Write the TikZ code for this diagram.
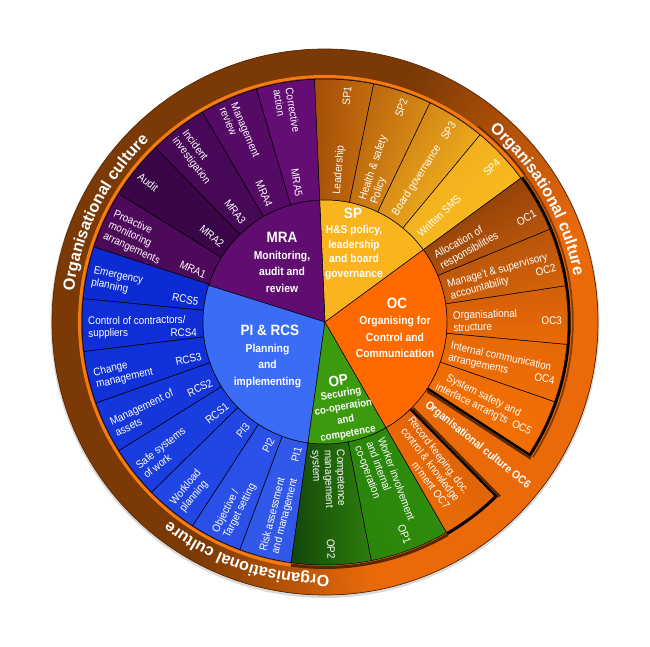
\documentclass[tikz,border=0pt]{standalone}
\usepackage{fontspec}
\setmainfont{Liberation Sans}[FakeStretch=0.9]
\newfontfamily\bandfamily{Liberation Sans}
\usetikzlibrary{calc,decorations.text}

\definecolor{bandbrown}{HTML}{7A3905}
\definecolor{bandorange}{HTML}{EA6A0A}
\definecolor{ringorange}{HTML}{F47A12}
\definecolor{darkbrown}{HTML}{5A2600}
\definecolor{spcore}{HTML}{FAB41E}
\definecolor{mracore}{HTML}{600C70}
\definecolor{mraa}{HTML}{4E0A5A}
\definecolor{mrab}{HTML}{3B0647}
\definecolor{mrac}{HTML}{470857}
\definecolor{mrad}{HTML}{550A66}
\definecolor{mrae}{HTML}{630D75}
\definecolor{picore}{HTML}{3B6CF6}
\definecolor{rcse}{HTML}{0D2BD2}
\definecolor{rcsd}{HTML}{0F2ED5}
\definecolor{rcsc}{HTML}{1131D8}
\definecolor{rcsb}{HTML}{1536DB}
\definecolor{rcsa}{HTML}{1A3DDF}
\definecolor{pic}{HTML}{2246E3}
\definecolor{pib}{HTML}{2A50E8}
\definecolor{pia}{HTML}{3258EA}
\definecolor{opcore}{HTML}{3B9A0D}
\definecolor{opa}{HTML}{2F8E0C}
\definecolor{opaw}{HTML}{2A840C}
\definecolor{opbw}{HTML}{12480A}
\definecolor{opbc}{HTML}{2E7E0D}
\definecolor{occore}{HTML}{FF6A00}
\definecolor{spaw}{HTML}{C6700E}
\definecolor{spac}{HTML}{A44E08}
\definecolor{spbw}{HTML}{E0961A}
\definecolor{spbc}{HTML}{B8620B}
\definecolor{spcw}{HTML}{F8B820}
\definecolor{spcc}{HTML}{C97C12}
\definecolor{spdw}{HTML}{F9BC20}
\definecolor{spdc}{HTML}{F0AE1C}
\definecolor{ocgw}{HTML}{F06E05}
\definecolor{ocgc}{HTML}{D8600A}
\definecolor{ocew}{HTML}{F47004}
\definecolor{ocec}{HTML}{EE6C05}
\definecolor{ocdw}{HTML}{F06E05}
\definecolor{ocdc}{HTML}{E46808}
\definecolor{occw}{HTML}{EC6A06}
\definecolor{occc}{HTML}{D05E0A}
\definecolor{ocbw}{HTML}{D8640A}
\definecolor{ocbc}{HTML}{AE500A}
\definecolor{ocaw}{HTML}{C45C0C}
\definecolor{ocac}{HTML}{843A08}

\newcommand{\segfont}{\fontsize{11}{12.2}\selectfont}
% ring segment: start angle, end angle, colour at clockwise side, colour at counter-clockwise side
\newcommand{\ringseg}[4]{%
  \pgfmathsetmacro\mymid{(#1+#2)/2}%
  \path[draw=black, line width=0.5pt, top color=#4, bottom color=#3, shading angle=\mymid]
    (#1:122pt) arc[start angle=#1,end angle=#2,radius=122pt]
    -- (#2:243pt) arc[start angle=#2,end angle=#1,radius=243pt] -- cycle;}
\newcommand{\coreseg}[3]{%
  \path[fill=#3, draw=black, line width=0.5pt] (0,0) -- (#1:122pt) arc[start angle=#1,end angle=#2,radius=122pt] -- cycle;}
\newcommand{\labR}[6]{%
  \pgfmathsetmacro\myup{#2+90}%
  \node[seglabel, anchor=west, rotate=#2] (#1n) at ($(#2:128pt)+(\myup:#5pt)$) {#3};
  \node[segcode, anchor=east, rotate=#2] (#1c) at ($(#2:237pt)+(\myup:#6pt)$) {#4};}
\newcommand{\labL}[6]{%
  \pgfmathsetmacro\myup{#2-90}%
  \pgfmathsetmacro\myrot{#2-180}%
  \node[seglabel, anchor=west, rotate=\myrot] (#1n) at ($(#2:237pt)+(\myup:#5pt)$) {#3};
  \node[segcode, anchor=east, rotate=\myrot] (#1c) at ($(#2:128pt)+(\myup:#6pt)$) {#4};}

\begin{document}
\begin{tikzpicture}[x=1pt,y=1pt,
  seglabel/.style={text=white, font=\segfont, align=left, inner sep=0pt},
  segcode/.style={text=white, font=\segfont, inner sep=0pt},
  coretitle/.style={text=white, font=\bfseries\fontsize{15}{18}\selectfont, inner sep=0pt},
  corebody/.style={text=white, font=\bfseries\fontsize{11.5}{16.6}\selectfont, align=center, inner sep=0pt},
  bandtext/.style={decorate, decoration={text along path, text align=center, text color=white,
     text={|\bandfamily\bfseries\fontsize{16.2}{19}\selectfont|Organisational culture}}}]
\useasboundingbox (-325,-324) rectangle (325,322);

% outer band
\fill[black!15] (0,-1.5) circle[radius=274.5pt];
\fill[bandbrown] (0,0) circle[radius=273pt];
\fill[bandorange] (0,0) -- (-80:273pt) arc[start angle=-80,end angle=20,radius=273pt] -- cycle;
\foreach \i in {0,...,49}{
  \pgfmathtruncatemacro\p{100-2*\i}
  \pgfmathsetmacro\aa{20+\i}
  \pgfmathsetmacro\bb{21.5+\i}
  \fill[bandorange!\p!bandbrown] (0,0) -- (\aa:273pt) arc[start angle=\aa,end angle=\bb,radius=273pt] -- cycle;
}
\foreach \i in {0,...,39}{
  \pgfmathtruncatemacro\p{2.5*\i}
  \pgfmathsetmacro\aa{240+\i}
  \pgfmathsetmacro\bb{241.5+\i}
  \fill[bandorange!\p!bandbrown] (0,0) -- (\aa:273pt) arc[start angle=\aa,end angle=\bb,radius=273pt] -- cycle;
}
\draw[darkbrown, line width=0.7pt] (0,0) circle[radius=273pt];

% thin ring line
\draw[ringorange, line width=3pt] (36.3:245.5pt) arc[start angle=36.3,end angle=262,radius=245.5pt];
\draw[darkbrown!80!bandbrown, line width=1.6pt] (36.3:248.3pt) arc[start angle=36.3,end angle=52,radius=248.3pt];
\draw[darkbrown, line width=3pt] (262:245.5pt) arc[start angle=262,end angle=300,radius=245.5pt];

% SP wedges
\ringseg{78.45}{92.5}{spaw}{spac}
\ringseg{64.4}{78.45}{spbw}{spbc}
\ringseg{50.35}{64.4}{spcw}{spcc}
\ringseg{36.3}{50.35}{spdw}{spdc}
% MRA wedges
\ringseg{92.5}{106.4}{mrae}{mrae}
\ringseg{106.4}{120.3}{mrad}{mrad}
\ringseg{120.3}{134.2}{mrac}{mrac}
\ringseg{134.2}{148.1}{mrab}{mrab}
\ringseg{148.1}{162}{mraa}{mraa}
% RCS / PI wedges
\ringseg{162}{174.5}{rcse}{rcse}
\ringseg{174.5}{187}{rcsd}{rcsd}
\ringseg{187}{199.5}{rcsc}{rcsc}
\ringseg{199.5}{212}{rcsb}{rcsb}
\ringseg{212}{224.5}{rcsa}{rcsa}
\ringseg{224.5}{237}{pic}{pic}
\ringseg{237}{249.5}{pib}{pib}
\ringseg{249.5}{262}{pia}{pia}
% OP wedges
\ringseg{262}{281}{opbw}{opbc}
\ringseg{281}{300}{opaw}{opa}
% OC wedges
\ringseg{300}{314.5}{ocgw}{ocgc}
\ringseg{327}{340.86}{ocew}{ocec}
\ringseg{340.86}{354.72}{ocdw}{ocdc}
\ringseg{354.72}{368.58}{occw}{occc}
\ringseg{368.58}{382.44}{ocbw}{ocbc}
\ringseg{382.44}{396.3}{ocaw}{ocac}

% core
\coreseg{36.3}{92.5}{spcore}
\coreseg{92.5}{162.5}{mracore}
\coreseg{162.5}{262}{picore}
\coreseg{262}{300}{opcore}
\coreseg{300}{396.3}{occore}

% OC black frames with shadows
\draw[darkbrown, line width=2pt] ($(-33:123pt)+(-123:2.6pt)$) -- ($(-33:247pt)+(-123:2.6pt)$);
\draw[darkbrown, line width=2pt] ($(-45.5:123pt)+(44.5:2.6pt)$) -- ($(-45.5:247pt)+(44.5:2.6pt)$);
\draw[darkbrown!70!bandorange, line width=1.8pt] (-33:247.8pt) arc[start angle=-33,end angle=36.3,radius=247.8pt];
\draw[black, line width=2.5pt, line join=miter] (-33:122pt) -- (-33:244.5pt) arc[start angle=-33,end angle=36.3,radius=244.5pt];
\draw[black, line width=2.5pt, line join=miter] (-45.5:122pt) -- (-45.5:244.5pt) arc[start angle=-45.5,end angle=-60,radius=244.5pt];

% band texts
\path[bandtext] (180:253pt) arc[start angle=180,end angle=127,radius=253pt];
\path[bandtext] (66:253pt) arc[start angle=66,end angle=-6,radius=253pt];
\path[bandtext] (278:253pt) arc[start angle=278,end angle=225,radius=253pt];

\node[text=white, font=\bfseries\fontsize{11.3}{13}\selectfont, inner sep=0pt, anchor=west, rotate=-38.9]
  (oc6) at (-38.9:130pt) {Organisational culture OC6};

% wedge labels
\labR{sp1}{85.475}{Leadership}{SP1}{-2}{-4}
\labR{sp2}{71.425}{Health \& safety\\Policy}{SP2}{-3}{-4}
\labR{sp3}{57.375}{Board governance}{SP3}{-1}{-1}
\labR{sp4}{43.325}{Written SMS}{SP4}{-1}{-2}
\labL{mra5}{99.45}{Corrective\\action}{MRA5}{-3}{-5}
\labL{mra4}{113.35}{Management\\review}{MRA4}{-3}{-5}
\labL{mra3}{127.25}{Incident\\investigation}{MRA3}{-3}{-5}
\labL{mra2}{141.15}{Audit}{MRA2}{-2}{-4}
\labL{mra1}{155.05}{Proactive\\monitoring\\arrangements}{MRA1}{-3}{-8}
\labL{rcs5}{168.25}{Emergency\\planning}{RCS5}{-3}{-6}
\labL{rcs4}{180.75}{Control of contractors/\\suppliers}{RCS4}{-3}{-9}
\labL{rcs3}{193.25}{Change\\management}{RCS3}{-3}{-5}
\labL{rcs2}{205.75}{Management of\\assets}{RCS2}{-3}{-5}
\labL{rcs1}{218.25}{Safe systems\\of work}{RCS1}{-3}{-5}
\labL{pi3}{230.75}{Workload\\planning}{PI3}{-3}{-5}
\labL{pi2}{243.25}{Objective /\\Target setting}{PI2}{-3}{-5}
\labL{pi1}{255.75}{Risk assessment\\and management}{PI1}{-3}{-5}
\labR{op2}{-88.5}{Competence\\management\\system}{OP2}{-1}{0}
\labR{op1}{-69.5}{Worker involvement\\and internal\\co-operation}{OP1}{-1}{0}
\node[seglabel, align=right, anchor=west, rotate=-52.75] (oc7n) at ($(-52.75:128pt)+(37.25:-2pt)$)
  {Record keeping, doc.\\control \& knowledge\\m'ment OC7};
\node[seglabel, anchor=west, rotate=-26.07] (oc5n) at ($(-26.07:128pt)+(63.93:-3pt)$)
  {\hspace*{6pt}System safety and\\interface arrang'ts~~OC5};
\labR{oc4}{-12.21}{Internal communication\\arrangements}{OC4}{-3}{-9}
\labR{oc3}{1.65}{Organisational\\structure}{OC3}{-3}{-5}
\labR{oc2}{15.51}{Manage't \& supervisory\\accountability}{OC2}{-3}{-9}
\labR{oc1}{29.37}{Allocation of\\responsibilities}{OC1}{-3}{-8}

% core labels
\node[coretitle] (sptitle) at (28,109) {SP};
\node[corebody, font=\bfseries\fontsize{11.4}{14.5}\selectfont] (spbody) at (29,69.6) {H\&S policy,\\leadership\\and board\\governance};
\node[coretitle] (mratitle) at (-43,85) {MRA};
\node[corebody] (mrabody) at (-43,50.3) {Monitoring,\\audit and\\review};
\node[coretitle] (pititle) at (-55,-8) {PI \& RCS};
\node[corebody] (pibody) at (-57.5,-43.7) {Planning\\and\\implementing};
\node[coretitle] (octitle) at (72,19) {OC};
\node[corebody] (ocbody) at (70,-14.9) {Organising for\\Control and\\Communication};
\node[coretitle, rotate=10] (optitle) at (13.3,-58.7) {OP};
\node[corebody, font=\bfseries\fontsize{10.6}{13.6}\selectfont, rotate=10] (opbody) at (19.6,-92) {Securing\\co-operation\\and\\competence};
\end{tikzpicture}
\end{document}
